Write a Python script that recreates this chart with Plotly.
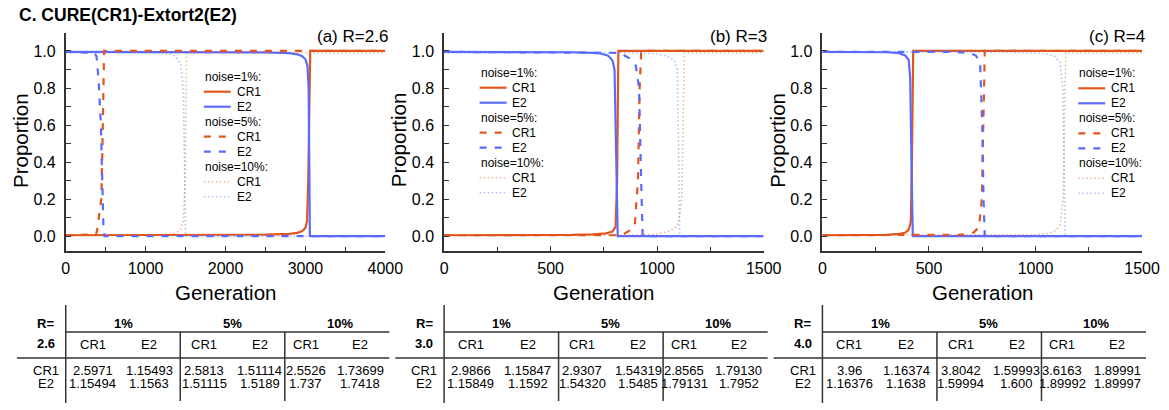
import plotly.graph_objects as go

W, H = 1169, 410
W_EFF = 1152  # width the plot area is actually laid out at in the viewer
FONT = "Liberation Sans, Arial, sans-serif"
ORANGE = "#E2571E"
BLUE = "#5B6BFE"

# ---------------- data ----------------
panel_titles = ["(a) R=2.6", "(b) R=3", "(c) R=4"]
x_max = [4000, 1500, 1500]
x_dtick = [1000, 500, 500]

# Panel (a) R=2.6
gen_a_n1_cr1 = [0, 1000, 2000, 2500, 2800, 2900, 2960, 3000, 3020, 3035, 3060, 4000]
prop_a_n1_cr1 = [0.005, 0.005, 0.006, 0.008, 0.012, 0.018, 0.028, 0.045, 0.08, 0.3, 1.0, 1.0]
gen_a_n1_e2 = [0, 1000, 2000, 2500, 2800, 2900, 2960, 3000, 3025, 3040, 3050, 3055, 4000]
prop_a_n1_e2 = [0.995, 0.995, 0.994, 0.992, 0.988, 0.982, 0.972, 0.955, 0.92, 0.8, 0.3, 0.0, 0.0]
gen_a_n5_cr1 = [0, 250, 380, 392, 445, 458, 466, 473, 480, 4000]
prop_a_n5_cr1 = [0.005, 0.006, 0.01, 0.03, 0.2, 0.45, 0.75, 0.97, 1.0, 1.0]
gen_a_n5_e2 = [0, 360, 386, 410, 440, 460, 473, 485, 4000]
prop_a_n5_e2 = [0.995, 0.99, 0.97, 0.85, 0.6, 0.3, 0.03, 0.0, 0.0]
gen_a_n10_cr1 = [0, 1000, 1350, 1430, 1470, 1495, 1505, 1515, 4000]
prop_a_n10_cr1 = [0.005, 0.006, 0.012, 0.03, 0.08, 0.3, 0.8, 0.99, 0.99]
gen_a_n10_e2 = [0, 1000, 1300, 1380, 1440, 1470, 1490, 1500, 4000]
prop_a_n10_e2 = [0.99, 0.99, 0.985, 0.97, 0.93, 0.8, 0.3, 0.0, 0.0]

# Panel (b) R=3
gen_b_n1_cr1 = [0, 300, 600, 700, 760, 790, 805, 812, 818, 1500]
prop_b_n1_cr1 = [0.005, 0.005, 0.007, 0.01, 0.015, 0.025, 0.05, 0.3, 1.0, 1.0]
gen_b_n1_e2 = [0, 300, 600, 700, 740, 770, 790, 800, 808, 815, 1500]
prop_b_n1_e2 = [0.995, 0.995, 0.993, 0.99, 0.985, 0.975, 0.95, 0.9, 0.5, 0.0, 0.0]
gen_b_n5_cr1 = [0, 818, 840, 870, 895, 910, 918, 925, 1500]
prop_b_n5_cr1 = [0.005, 0.005, 0.01, 0.03, 0.06, 0.3, 0.8, 1.0, 1.0]
gen_b_n5_e2 = [0, 818, 840, 870, 900, 915, 925, 932, 1500]
prop_b_n5_e2 = [0.995, 0.99, 0.98, 0.96, 0.92, 0.8, 0.3, 0.0, 0.0]
gen_b_n10_cr1 = [0, 900, 1000, 1050, 1080, 1100, 1115, 1122, 1128, 1500]
prop_b_n10_cr1 = [0.005, 0.006, 0.012, 0.025, 0.04, 0.07, 0.2, 0.7, 0.99, 0.99]
gen_b_n10_e2 = [0, 900, 1000, 1050, 1080, 1095, 1100, 1106, 1500]
prop_b_n10_e2 = [0.99, 0.99, 0.985, 0.97, 0.95, 0.9, 0.5, 0.0, 0.0]

# Panel (c) R=4
gen_c_n1_cr1 = [0, 200, 300, 360, 390, 405, 415, 420, 426, 1500]
prop_c_n1_cr1 = [0.005, 0.005, 0.007, 0.012, 0.02, 0.035, 0.08, 0.4, 1.0, 1.0]
gen_c_n1_e2 = [0, 200, 300, 360, 390, 405, 412, 418, 424, 1500]
prop_c_n1_e2 = [0.995, 0.995, 0.993, 0.988, 0.975, 0.95, 0.85, 0.4, 0.0, 0.0]
gen_c_n5_cr1 = [0, 426, 600, 680, 710, 735, 748, 755, 762, 1500]
prop_c_n5_cr1 = [0.005, 0.005, 0.005, 0.008, 0.02, 0.05, 0.2, 0.7, 1.0, 1.0]
gen_c_n5_e2 = [0, 426, 600, 690, 720, 740, 750, 756, 762, 1500]
prop_c_n5_e2 = [0.995, 0.995, 0.995, 0.99, 0.975, 0.94, 0.6, 0.2, 0.0, 0.0]
gen_c_n10_cr1 = [0, 800, 1000, 1060, 1095, 1115, 1130, 1137, 1142, 1500]
prop_c_n10_cr1 = [0.005, 0.005, 0.008, 0.015, 0.03, 0.06, 0.2, 0.7, 0.99, 0.99]
gen_c_n10_e2 = [0, 800, 1000, 1050, 1090, 1115, 1128, 1134, 1140, 1500]
prop_c_n10_e2 = [0.995, 0.995, 0.99, 0.985, 0.97, 0.94, 0.8, 0.3, 0.0, 0.0]

# Tables
table_R = ["2.6", "3.0", "4.0"]
noise_levels = ["1%", "5%", "10%"]
strategies = ["CR1", "E2"]
tab_a_cr1 = ["2.5971", "1.15493", "2.5813", "1.51114", "2.5526", "1.73699"]
tab_a_e2 = ["1.15494", "1.1563", "1.51115", "1.5189", "1.737", "1.7418"]
tab_b_cr1 = ["2.9866", "1.15847", "2.9307", "1.54319", "2.8565", "1.79130"]
tab_b_e2 = ["1.15849", "1.1592", "1.54320", "1.5485", "1.79131", "1.7952"]
tab_c_cr1 = ["3.96", "1.16374", "3.8042", "1.59993", "3.6163", "1.89991"]
tab_c_e2 = ["1.16376", "1.1638", "1.59994", "1.600", "1.89992", "1.89997"]

# ---------------- assembling ----------------
panel_series = [
    [(gen_a_n1_cr1, prop_a_n1_cr1), (gen_a_n1_e2, prop_a_n1_e2),
     (gen_a_n5_cr1, prop_a_n5_cr1), (gen_a_n5_e2, prop_a_n5_e2),
     (gen_a_n10_cr1, prop_a_n10_cr1), (gen_a_n10_e2, prop_a_n10_e2)],
    [(gen_b_n1_cr1, prop_b_n1_cr1), (gen_b_n1_e2, prop_b_n1_e2),
     (gen_b_n5_cr1, prop_b_n5_cr1), (gen_b_n5_e2, prop_b_n5_e2),
     (gen_b_n10_cr1, prop_b_n10_cr1), (gen_b_n10_e2, prop_b_n10_e2)],
    [(gen_c_n1_cr1, prop_c_n1_cr1), (gen_c_n1_e2, prop_c_n1_e2),
     (gen_c_n5_cr1, prop_c_n5_cr1), (gen_c_n5_e2, prop_c_n5_e2),
     (gen_c_n10_cr1, prop_c_n10_cr1), (gen_c_n10_e2, prop_c_n10_e2)],
]
tables = [(tab_a_cr1, tab_a_e2), (tab_b_cr1, tab_b_e2), (tab_c_cr1, tab_c_e2)]

# styles per series (noise level x strategy)
styles = [
    dict(color=ORANGE, width=2.2, dash="solid", opacity=1.0),
    dict(color=BLUE, width=2.2, dash="solid", opacity=1.0),
    dict(color=ORANGE, width=2.2, dash="7px,8px", opacity=1.0),
    dict(color=BLUE, width=2.2, dash="7px,8px", opacity=1.0),
    dict(color=ORANGE, width=1.6, dash="1.5px,2.5px", opacity=0.45),
    dict(color=BLUE, width=1.6, dash="1.5px,2.5px", opacity=0.45),
]

def px(x):
    return x / W_EFF

def py(y):
    return 1 - y / H

axis_left = [62, 442, 822]
axis_w = 321
y_top, y_bot = 33, 251

fig = go.Figure()
annotations = []
shapes = []

for i in range(3):
    xa = "x" if i == 0 else f"x{i+1}"
    ya = "y" if i == 0 else f"y{i+1}"
    for (gx, gy), st in zip(panel_series[i], styles):
        fig.add_trace(go.Scatter(
            x=gx, y=gy, mode="lines", xaxis=xa, yaxis=ya, showlegend=False,
            opacity=st["opacity"], hoverinfo="skip",
            line=dict(color=st["color"], width=st["width"], dash=st["dash"]),
        ))
    x0 = axis_left[i]
    xkey = "xaxis" if i == 0 else f"xaxis{i+1}"
    ykey = "yaxis" if i == 0 else f"yaxis{i+1}"
    fig.update_layout(**{
        xkey: dict(
            domain=[px(x0), px(x0 + axis_w)], anchor=ya, range=[0, x_max[i]],
            showgrid=False, zeroline=False, showline=True, linecolor="#333",
            linewidth=1.6, ticks="inside", ticklen=5, tickwidth=1.3, tickcolor="#333",
            dtick=x_dtick[i], tick0=0,
            minor=dict(ticks="inside", ticklen=4, dtick=x_dtick[i] / 2, tickcolor="#333", tickwidth=1.2),
            tickfont=dict(family=FONT, size=16, color="black"),
            ticklabelstandoff=2, fixedrange=True,
        ),
        ykey: dict(
            domain=[py(y_bot), py(y_top)], anchor=xa, range=[-0.08, 1.097],
            showgrid=False, zeroline=False, showline=True, linecolor="#333",
            linewidth=1.6, ticks="inside", ticklen=5, tickwidth=1.3, tickcolor="#333",
            dtick=0.2, tick0=0, tickformat=".1f",
            minor=dict(ticks="inside", ticklen=5, dtick=0.1, tickcolor="#333", tickwidth=1.2),
            tickfont=dict(family=FONT, size=16, color="black"),
            ticklabelstandoff=5, fixedrange=True,
        ),
    })

    # axis titles
    annotations.append(dict(text="Generation", x=px(x0 + axis_w / 2), y=py(292), xref="paper", yref="paper",
                            showarrow=False, font=dict(family=FONT, size=20.5, color="black"),
                            xanchor="center", yanchor="middle"))
    annotations.append(dict(text="Proportion", x=px(x0 - 46), y=py(140), xref="paper", yref="paper",
                            showarrow=False, textangle=-90, font=dict(family=FONT, size=20.5, color="black"),
                            xanchor="center", yanchor="middle"))
    # panel label
    annotations.append(dict(text=panel_titles[i], x=px(x0 + 326), y=py(37), xref="paper", yref="paper",
                            showarrow=False, font=dict(family=FONT, size=17, color="black"),
                            xanchor="right", yanchor="middle"))

    # legend (group titles + keys)
    leg_x = [200.7, 477.7, 1079][i]
    leg_y = [76.7, 72.7, 73.3][i]
    row = 0
    for g, nl in enumerate(noise_levels):
        annotations.append(dict(text=f"noise={nl}:", x=px(leg_x - 1), y=py(leg_y + row * 15),
                                xref="paper", yref="paper", showarrow=False,
                                font=dict(family=FONT, size=12, color="black"),
                                xanchor="left", yanchor="middle"))
        row += 1
        for s, name in enumerate(strategies):
            st = styles[g * 2 + s]
            yy = py(leg_y + row * 15)
            shapes.append(dict(type="line", xref="paper", yref="paper",
                               x0=px(leg_x), x1=px(leg_x + 27), y0=yy, y1=yy, opacity=st["opacity"],
                               line=dict(color=st["color"], width=st["width"], dash=st["dash"])))
            annotations.append(dict(text=name, x=px(leg_x + 31), y=yy, xref="paper", yref="paper",
                                    showarrow=False, font=dict(family=FONT, size=12, color="black"),
                                    xanchor="left", yanchor="middle"))
            row += 1

    # table
    tcol = [27, 84, 139, 195, 241, 296]
    gcol = [58, 167, 275]
    lc = "#333"
    shapes.append(dict(type="line", xref="paper", yref="paper", x0=px(x0), x1=px(x0),
                       y0=py(305), y1=py(403), line=dict(color=lc, width=1.5)))
    shapes.append(dict(type="line", xref="paper", yref="paper", x0=px(x0), x1=px(x0 + 325),
                       y0=py(332), y1=py(332), line=dict(color=lc, width=1.5)))
    shapes.append(dict(type="line", xref="paper", yref="paper", x0=px(x0 - 49), x1=px(x0 + 325),
                       y0=py(358), y1=py(358), line=dict(color=lc, width=1.5)))
    for sx in (115, 220):
        shapes.append(dict(type="line", xref="paper", yref="paper", x0=px(x0 + sx), x1=px(x0 + sx),
                           y0=py(332), y1=py(401), line=dict(color=lc, width=1.5)))
    bold = dict(family=FONT, size=13, color="black")
    norm = dict(family=FONT, size=13, color="black")
    annotations.append(dict(text="<b>R=</b>", x=px(x0 - 20), y=py(323), xref="paper", yref="paper",
                            showarrow=False, font=bold, xanchor="center", yanchor="middle"))
    annotations.append(dict(text=f"<b>{table_R[i]}</b>", x=px(x0 - 20), y=py(343), xref="paper", yref="paper",
                            showarrow=False, font=bold, xanchor="center", yanchor="middle"))
    for g, nl in enumerate(noise_levels):
        annotations.append(dict(text=f"<b>{nl}</b>", x=px(x0 + gcol[g]), y=py(323), xref="paper", yref="paper",
                                showarrow=False, font=bold, xanchor="center", yanchor="middle"))
    for c in range(6):
        annotations.append(dict(text=strategies[c % 2], x=px(x0 + tcol[c]), y=py(344), xref="paper",
                                yref="paper", showarrow=False, font=norm, xanchor="center", yanchor="middle"))
    for r, (rname, vals) in enumerate(zip(strategies, tables[i])):
        yy = py(370 + r * 13.5)
        annotations.append(dict(text=rname, x=px(x0 - 20), y=yy, xref="paper", yref="paper",
                                showarrow=False, font=norm, xanchor="center", yanchor="middle"))
        for c in range(6):
            annotations.append(dict(text=vals[c], x=px(x0 + tcol[c]), y=yy, xref="paper", yref="paper",
                                    showarrow=False, font=norm, xanchor="center", yanchor="middle"))

annotations.append(dict(text="<b>C. CURE(CR1)-Extort2(E2)</b>", x=px(13), y=py(15), xref="paper", yref="paper",
                        showarrow=False, font=dict(family=FONT, size=17.5, color="black"),
                        xanchor="left", yanchor="middle"))

fig.update_layout(
    width=W, height=H, autosize=False, margin=dict(l=0, r=0, t=0, b=0, pad=0),
    paper_bgcolor="white", plot_bgcolor="white",
    annotations=annotations, shapes=shapes, showlegend=False,
)

fig.write_html("out.html", config={"displayModeBar": False, "responsive": False})
